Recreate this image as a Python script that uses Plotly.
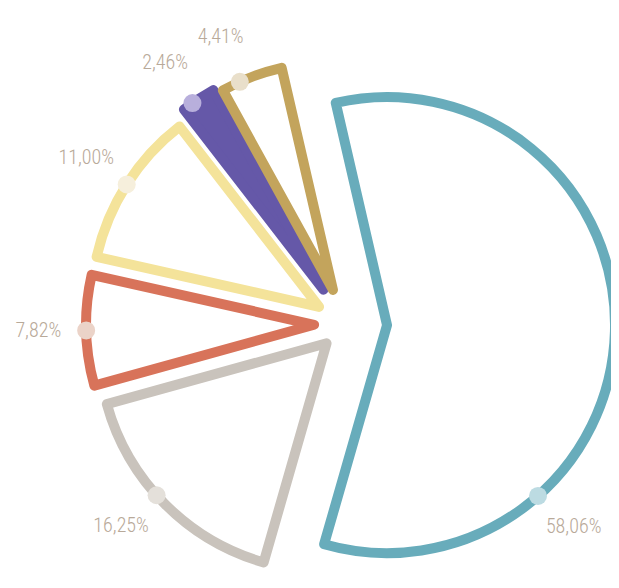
import math
import plotly.graph_objects as go

# ---- data ----
labels = ["58,06%", "16,25%", "7,82%", "11,00%", "2,46%", "4,41%"]
values = [58.06, 16.25, 7.82, 11.00, 2.46, 4.41]

# ---- styles ----
line_colors = ["#68acbb", "#c9c3bc", "#d8735a", "#f4e39a", "#6558a8", "#c3a45c"]
fill_colors = ["#ffffff", "#ffffff", "#ffffff", "#ffffff", "#6558a8", "#ffffff"]
dot_colors = ["#bcdbe2", "#e4e0da", "#ebd3c8", "#f6efdc", "#b8afdc", "#e9dfca"]
pulls = [0.18, 0.12, 0.14, 0.14, 0.18, 0.16]
dot_frac = [0.725, 0.55, 0.5, 0.5, 0.3, 0.3]   # where the dot sits along each slice's arc
label_gap = 0.21                               # radial gap from dot to label (pie-radius units)
rotation = -13
text_color = "#b8a999"

W, H = 619, 588
R = 228          # pie radius in px
CX, CY = 338, 316  # pie centre in px (CY from top)

maxpull = max(pulls)
box = 2 * R * (1 + maxpull)
dom_x = [max(0.0, (CX - box / 2) / W), min(1.0, (CX + box / 2) / W)]
dom_y = [max(0.0, 1 - (CY + box / 2) / H), 1 - (CY - box / 2) / H]

fig = go.Figure()

fig.add_trace(go.Pie(
    values=values, labels=labels, sort=False, direction="clockwise",
    rotation=rotation, pull=pulls, textinfo="none", hoverinfo="label",
    marker=dict(colors=fill_colors, line=dict(color=line_colors, width=10)),
    domain=dict(x=dom_x, y=dom_y), showlegend=False,
))

# geometry of dots / labels in pie-radius units (x right, y up)
total = sum(values)
cum = 0.0
dot_x, dot_y, lab_x, lab_y = [], [], [], []
for v, p, f in zip(values, pulls, dot_frac):
    start = rotation + 360 * cum / total
    span = 360 * v / total
    mid = math.radians(start + span / 2)
    a = math.radians(start + f * span)
    x = p * math.sin(mid) + math.sin(a)
    y = p * math.cos(mid) + math.cos(a)
    d = math.hypot(x, y)
    dot_x.append(x); dot_y.append(y)
    lab_x.append(x * (d + label_gap) / d); lab_y.append(y * (d + label_gap) / d)
    cum += v

fig.add_trace(go.Scatter(
    x=lab_x, y=lab_y, mode="text", text=labels, cliponaxis=False,
    textfont=dict(family="Roboto Condensed, Roboto", size=20, weight=300, color=text_color),
    showlegend=False, hoverinfo="skip",
))

shapes = []
for x, y, c in zip(dot_x, dot_y, dot_colors):
    shapes.append(dict(type="circle", xref="x", yref="y", xsizemode="pixel", ysizemode="pixel",
                       xanchor=x, yanchor=y, x0=-9, x1=9, y0=-9, y1=9,
                       fillcolor=c, line=dict(width=0), layer="above"))

fig.update_layout(
    width=W, height=H, margin=dict(l=0, r=0, t=0, b=0),
    paper_bgcolor="white", plot_bgcolor="rgba(0,0,0,0)",
    xaxis=dict(range=[-CX / R, (W - CX) / R], visible=False, fixedrange=True, domain=[0, 1]),
    yaxis=dict(range=[-(H - CY) / R, CY / R], visible=False, fixedrange=True, domain=[0, 1]),
    shapes=shapes,
)

fig.write_html("out.html")
